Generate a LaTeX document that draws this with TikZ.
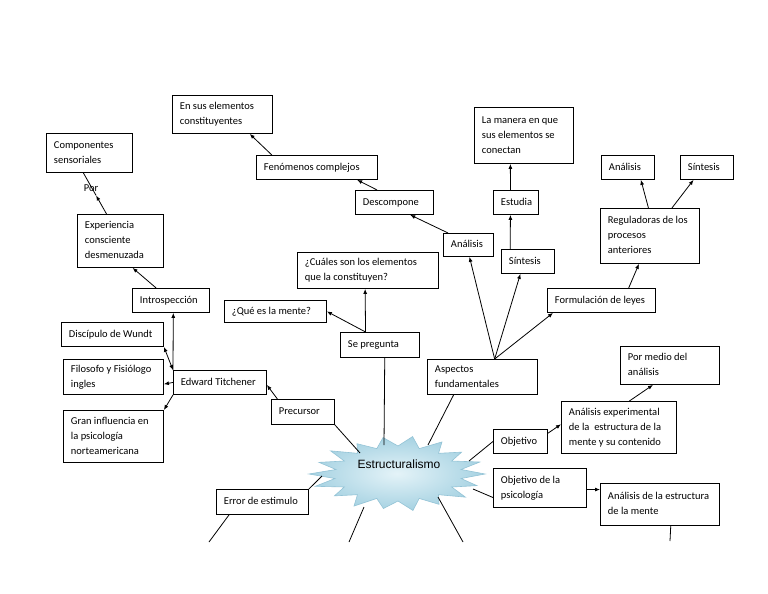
\documentclass[tikz,border=0pt]{standalone}
\usepackage{fontspec}
\setmainfont{Carlito}
\newfontfamily\arialf{Liberation Sans}
\usetikzlibrary{arrows.meta,calc}
\definecolor{starin}{HTML}{E4F3F8}
\definecolor{starout}{HTML}{A6D2E2}
\definecolor{starline}{HTML}{93C3D6}
\newcommand\mkbox[6]{%
  \pgfmathsetmacro\mkbw{#4-#2}\pgfmathsetmacro\mkbh{#5-#3}\pgfmathsetmacro\mktw{#4-#2-15}%
  \node[box,minimum width=\mkbw pt,minimum height=\mkbh pt,anchor=north west] (#1) at (#2,#3)
    {\makebox[\mktw pt][l]{\begin{tabular}{@{}l@{}}#6\end{tabular}}};}
\begin{document}
\begin{tikzpicture}[x=1pt,y=-1pt,
  box/.style={draw,line width=0.9pt,inner xsep=7.5pt,inner ysep=2pt,font=\fontsize{10.5}{15}\selectfont},
  conn/.style={line width=0.8pt},
  arr/.style={conn,-{Latex[length=5pt,width=4pt]}},
  darr/.style={conn,{Latex[length=5pt,width=4pt]}-{Latex[length=5pt,width=4pt]}},
  lbl/.style={font=\fontsize{10.5}{15}\selectfont,inner sep=0pt}]
\fill[white] (0,0) rectangle (768,594);
\useasboundingbox (0,0) rectangle (768,594);

% star
\begin{scope}[shift={(398,474)}]
\shade[inner color=starin,outer color=starout,draw=starline,line width=0.6pt]
 (0:87 and 35) -- (10:64 and 26) -- (20:84 and 34) -- (30:62 and 26) -- (40:88 and 36)
 -- (50:63 and 27) -- (60:82 and 35) -- (70:62 and 26) -- (80:86 and 37) -- (90:64 and 27)
 -- (100:84 and 35) -- (110:62 and 26) -- (120:88 and 37) -- (130:63 and 27) -- (140:83 and 34)
 -- (150:62 and 26) -- (160:88 and 36) -- (170:64 and 26) -- (180:89 and 36) -- (190:63 and 26)
 -- (200:84 and 34) -- (210:62 and 26) -- (220:88 and 36) -- (230:63 and 27) -- (240:82 and 35)
 -- (250:62 and 27) -- (260:86 and 37) -- (270:64 and 28) -- (280:84 and 38) -- (290:62 and 27)
 -- (300:88 and 37) -- (310:63 and 27) -- (320:83 and 34) -- (330:62 and 26) -- (340:87 and 35)
 -- (350:64 and 26) -- cycle;
\end{scope}
\node[font=\arialf\fontsize{12}{14}\selectfont,inner sep=1pt] (est) at (399,464) {Estructuralismo};

% star contact points and free ends
\coordinate (s1) at (384,445);
\coordinate (s2) at (428,445);
\coordinate (s3) at (360,453);
\coordinate (s4) at (322,476);
\coordinate (s5) at (364,507);
\coordinate (s6) at (438,497);
\coordinate (s7) at (469,461);
\coordinate (s8) at (473,489);
\coordinate (f1) at (209,542);
\coordinate (f2) at (349,542);
\coordinate (f3) at (463,542);
\coordinate (f4) at (670,541);

% boxes
\mkbox{ensus}{172}{95}{272}{133}{En sus elementos\\constituyentes}
\mkbox{comp}{46}{133}{132}{172}{Componentes\\sensoriales}
\mkbox{fen}{256}{155}{377}{179}{Fenómenos complejos}
\mkbox{desc}{355}{190}{433}{214}{Descompone}
\mkbox{exper}{77}{214}{163}{267}{Experiencia\\consciente\\desmenuzada}
\mkbox{cual}{297}{252}{438}{288}{¿Cuáles son los elementos\\que la constituyen?}
\mkbox{intro}{132}{288}{209}{312}{Introspección}
\mkbox{que}{224}{300}{326}{322}{¿Qué es la mente?}
\mkbox{sep}{340}{332}{419}{357}{Se pregunta}
\mkbox{disc}{61}{322}{163}{346}{Discípulo de Wundt}
\mkbox{filo}{63}{359}{163}{394}{Filosofo y Fisiólogo\\ingles}
\mkbox{edw}{173}{370}{266}{394}{Edward Titchener}
\mkbox{gran}{63}{410}{163}{462}{Gran influencia en\\la psicología\\norteamericana}
\mkbox{prec}{271}{399}{334}{424}{Precursor}
\mkbox{err}{216}{489}{308}{514}{Error de estimulo}
\mkbox{asp}{427}{359}{537}{394}{Aspectos\\fundamentales}
\mkbox{pormed}{620}{346}{719}{384}{Por medio del\\análisis}
\mkbox{anexp}{561}{401}{676}{453}{Análisis experimental\\de la \ estructura de la\\mente y su contenido}
\mkbox{obj}{493}{429}{547}{453}{Objetivo}
\mkbox{objps}{493}{468}{586}{507}{Objetivo de la\\psicología}
\mkbox{anest}{600}{483}{719}{525}{Análisis de la estructura\\de la mente}
\mkbox{maner}{474}{107}{573}{163}{La manera en que\\sus elementos se\\conectan}
\mkbox{estu}{493}{190}{538}{214}{Estudia}
\mkbox{anal1}{443}{233}{493}{256}{Análisis}
\mkbox{sint1}{501}{249}{554}{273}{Síntesis}
\mkbox{form}{547}{288}{655}{312}{Formulación de leyes}
\mkbox{anal2}{601}{155}{654}{179}{Análisis}
\mkbox{sint2}{680}{155}{733}{179}{Síntesis}
\mkbox{regul}{600}{208}{699}{263}{Reguladoras de los\\procesos\\anteriores}

% connectors: top part
\draw[arr] ($(fen.north west)!.13!(fen.north east)$) -- ($(ensus.south west)!.77!(ensus.south east)$);
\draw[arr] ($(desc.north west)!.28!(desc.north east)$) -- ($(fen.south west)!.83!(fen.south east)$);
\draw[arr] ($(anal1.north west)!.1!(anal1.north east)$) -- ($(desc.south west)!.7!(desc.south east)$);
\draw[arr] ($(sint1.north west)!.17!(sint1.north east)$) -- ($(estu.south west)!.38!(estu.south east)$);
\draw[arr] ($(estu.north west)!.38!(estu.north east)$) -- ($(maner.south west)!.364!(maner.south east)$);
\coordinate (aspt) at ($(asp.north west)!.61!(asp.north east)$);
\draw[arr] (aspt) -- ($(anal1.south west)!.52!(anal1.south east)$);
\draw[arr] (aspt) -- ($(sint1.south west)!.36!(sint1.south east)$);
\draw[arr] (aspt) -- ($(form.south west)!.055!(form.south east)$);
\draw[arr] ($(form.north west)!.75!(form.north east)$) -- ($(regul.south west)!.39!(regul.south east)$);
\draw[arr] ($(regul.north west)!.485!(regul.north east)$) -- ($(anal2.south west)!.74!(anal2.south east)$);
\draw[arr] ($(regul.north west)!.72!(regul.north east)$) -- ($(sint2.south west)!.25!(sint2.south east)$);

% Se pregunta
\coordinate (sept) at ($(sep.north west)!.32!(sep.north east)$);
\draw[arr] (sept) -- ($(cual.south west)!.48!(cual.south east)$);
\draw[arr] (sept) -- (que.east);
\draw[conn] ($(sep.south west)!.56!(sep.south east)$) -- (s1);
\draw[conn] ($(asp.south west)!.24!(asp.south east)$) -- (s2);

% left part
\draw[conn] (prec.south east) -- (s3);
\draw[arr] ($(prec.north west)!.1!(prec.north east)$) -- ($(edw.north east)!.6!(edw.south east)$);
\draw[arr] (edw.north west) -- ($(intro.south west)!.53!(intro.south east)$);
\draw[darr] (edw.north west) -- (disc.south east);
\draw[arr] (edw.west) -- ($(filo.north east)!.7!(filo.south east)$);
\draw[arr] (edw.south west) -- (gran.north east);
\draw[arr] ($(intro.north west)!.31!(intro.north east)$) -- ($(exper.south west)!.64!(exper.south east)$);
\coordinate (pA) at ($(exper.north west)!.34!(exper.north east)$);
\coordinate (pB) at ($(comp.south west)!.43!(comp.south east)$);
\coordinate (pm) at ($(pA)!.45!(pB)$);
\draw[arr] (pA) -- (pm);
\draw[conn] (pm) -- (pB);
\node[lbl] (por) at ($(pm)+(-5,-7)$) {Por};

% bottom
\draw[conn] (err.north east) -- (s4);
\draw[conn] ($(err.south west)!.14!(err.south east)$) -- (f1);
\draw[conn] (s5) -- (f2);
\draw[conn] (s6) -- (f3);

% right part
\draw[conn] (obj.west) -- (s7);
\draw[arr] ($(obj.north east)!.17!(obj.south east)$) -- ($(anexp.north west)!.44!(anexp.south west)$);
\draw[arr] ($(anexp.north west)!.59!(anexp.north east)$) -- ($(pormed.south west)!.33!(pormed.south east)$);
\draw[conn] ($(objps.north west)!.74!(objps.south west)$) -- (s8);
\coordinate (ope) at ($(objps.north east)!.54!(objps.south east)$);
\draw[arr] (ope) -- (ope -| anest.west);
\draw[conn] ($(anest.south west)!.59!(anest.south east)$) -- (f4);
\end{tikzpicture}
\end{document}
